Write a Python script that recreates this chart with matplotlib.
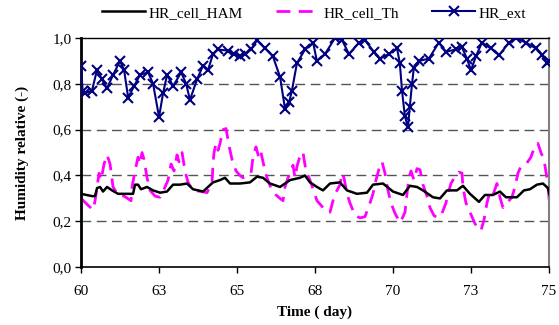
import matplotlib
matplotlib.use("Agg")
import matplotlib.pyplot as plt

# HR_ext
t_ext = [60.00, 60.05, 60.13, 60.35, 60.51, 60.67, 60.83, 61.03, 61.25, 61.38,
         61.51, 61.70, 61.89, 62.15, 62.31, 62.50, 62.63, 62.76, 62.95, 63.21,
         63.37, 63.49, 63.72, 63.91, 64.07, 64.23, 64.39, 64.71, 64.90, 65.10,
         65.26, 65.45, 65.64, 65.90, 66.15, 66.38, 66.54, 66.67, 66.76, 66.92,
         67.18, 67.44, 67.56, 67.82, 68.14, 68.37, 68.59, 68.91, 69.10, 69.39,
         69.58, 69.87, 70.13, 70.22, 70.29, 70.38, 70.48, 70.54, 70.61, 70.67,
         70.83, 71.15, 71.47, 71.70, 72.02, 72.21, 72.37, 72.50, 72.66, 72.85,
         73.14, 73.40, 73.72, 73.94, 74.26, 74.58, 74.78, 74.94, 75.00]
hr_ext = [0.88, 0.77, 0.76, 0.77, 0.86, 0.82, 0.78, 0.84, 0.90, 0.86,
          0.74, 0.79, 0.84, 0.85, 0.80, 0.655, 0.76, 0.84, 0.79, 0.85,
          0.80, 0.73, 0.82, 0.88, 0.86, 0.93, 0.95, 0.945, 0.93, 0.92,
          0.93, 0.95, 0.99, 0.955, 0.92, 0.83, 0.69, 0.72, 0.77, 0.89,
          0.95, 0.98, 0.90, 0.93, 1.00, 0.99, 0.93, 0.98, 0.99, 0.94,
          0.91, 0.93, 0.955, 0.89, 0.77, 0.66, 0.61, 0.70, 0.80, 0.87,
          0.90, 0.91, 0.98, 0.94, 0.95, 0.96, 0.91, 0.86, 0.92, 0.98,
          0.955, 0.925, 0.98, 1.00, 0.98, 0.955, 0.925, 0.89, 0.90]

# HR_cell_HAM
x_ham = [81, 92, 95, 97, 100, 103, 107, 112, 118, 123, 133, 135, 138, 141, 147,
         153, 160, 167, 173, 180, 187, 193, 203, 213, 220, 225, 230, 240, 250,
         257, 263, 270, 280, 290, 300, 305, 310, 317, 323, 330, 340, 347, 357,
         367, 373, 383, 393, 403, 410, 417, 423, 433, 440, 447, 457, 463, 470,
         479, 485, 493, 500, 506, 517, 524, 530, 537, 543, 548, 550]
hr_ham = [0.32, 0.31, 0.31, 0.345, 0.35, 0.33, 0.35, 0.335, 0.32, 0.32, 0.32, 0.36,
          0.36, 0.34, 0.35, 0.335, 0.325, 0.33, 0.36, 0.36, 0.365, 0.34, 0.33,
          0.37, 0.38, 0.39, 0.365, 0.365, 0.37, 0.395, 0.39, 0.365, 0.35, 0.38,
          0.39, 0.40, 0.37, 0.35, 0.335, 0.365, 0.37, 0.335, 0.32, 0.325, 0.36,
          0.365, 0.33, 0.315, 0.355, 0.35, 0.335, 0.305, 0.30, 0.335, 0.335,
          0.355, 0.32, 0.285, 0.315, 0.315, 0.33, 0.305, 0.305, 0.335, 0.34,
          0.36, 0.365, 0.345, 0.31]

# HR_cell_Th
x_th = [81, 88, 93, 95, 97, 99, 101, 104, 107, 110, 113, 118, 124, 131, 132,
        135, 138, 140, 142, 144, 147, 150, 155, 160, 163, 168, 171, 174, 177,
        179, 182, 185, 188, 193, 202, 207, 212, 213, 214, 216, 218, 220, 223,
        226, 229, 232, 236, 240, 243, 251, 253, 256, 259, 261, 264, 267, 271,
        276, 280, 283, 285, 288, 291, 293, 295, 297, 301, 303, 306, 310, 317,
        323, 327, 330, 333, 335, 337, 340, 342, 344, 347, 350, 355, 360, 365,
        370, 373, 376, 380, 382, 385, 388, 391, 395, 400, 403, 405, 407, 409,
        411, 414, 417, 420, 423, 427, 430, 434, 438, 442, 446, 448, 451, 455,
        459, 462, 463, 466, 470, 475, 478, 481, 484, 487, 490, 493, 497, 500,
        503, 507, 512, 515, 518, 521, 527, 531, 535, 538, 541, 544, 547, 549,
        550]
hr_th = [0.30, 0.27, 0.25, 0.29, 0.35, 0.41, 0.38, 0.45, 0.49, 0.45, 0.35, 0.315,
         0.31, 0.29, 0.35, 0.42, 0.48, 0.45, 0.50, 0.47, 0.39, 0.335, 0.31,
         0.305, 0.33, 0.38, 0.45, 0.42, 0.49, 0.46, 0.50, 0.42, 0.37, 0.335,
         0.33, 0.325, 0.37, 0.45, 0.50, 0.54, 0.51, 0.54, 0.60, 0.605, 0.53,
         0.47, 0.42, 0.40, 0.39, 0.41, 0.48, 0.525, 0.475, 0.50, 0.44, 0.39,
         0.345, 0.315, 0.30, 0.29, 0.35, 0.39, 0.42, 0.445, 0.39, 0.44, 0.50,
         0.50, 0.42, 0.38, 0.29, 0.26, 0.24, 0.24, 0.29, 0.32, 0.335, 0.36,
         0.41, 0.39, 0.32, 0.28, 0.225, 0.215, 0.22, 0.28, 0.32, 0.38, 0.445,
         0.46, 0.41, 0.335, 0.28, 0.235, 0.195, 0.22, 0.24, 0.32, 0.39, 0.42,
         0.38, 0.43, 0.425, 0.36, 0.31, 0.26, 0.225, 0.215, 0.235, 0.28, 0.32,
         0.365, 0.395, 0.415, 0.41, 0.35, 0.28, 0.24, 0.19, 0.17, 0.16, 0.205,
         0.28, 0.33, 0.315, 0.365, 0.305, 0.26, 0.28, 0.305, 0.35, 0.41, 0.44,
         0.455, 0.48, 0.53, 0.54, 0.50, 0.47, 0.39, 0.31, 0.19]

x_ticks = [60, 62.5, 65, 67.5, 70, 72.5, 75]
x_labels = ["60", "63", "65", "68", "70", "73", "75"]
y_ticks = [0.0, 0.2, 0.4, 0.6, 0.8, 1.0]
y_labels = ["0,0", "0,2", "0,4", "0,6", "0,8", "1,0"]


#_____________________________________________________________________________
def px_to_day(xs):

    # picture columns -> days (81 px = day 60, 31.2 px per day)
    return [60 + (x - 81) / 31.2 for x in xs]

#px_to_day

#_____________________________________________________________________________
def main():

    plt.rcParams["font.family"] = ["Liberation Serif", "DejaVu Serif"]

    fig = plt.figure(figsize=(5.59, 3.25), dpi=100)
    ax = fig.add_axes([0.145, 0.178, 0.837, 0.705])

    for yv in [0.2, 0.4, 0.6, 0.8]:
        ax.axhline(yv, color="#555555", lw=1, ls=(0, (7, 4)), zorder=1)

    ax.plot(px_to_day(x_ham), hr_ham, color="black", lw=1.8, label="HR_cell_HAM", zorder=3)
    ax.plot(px_to_day(x_th), hr_th, color="#ff00ff", lw=2, ls=(0, (5, 3)),
            label="HR_cell_Th", zorder=2)
    ax.plot(t_ext, hr_ext, color="#000080", lw=1.5, marker="x", ms=7, mew=1.5,
            label="HR_ext", zorder=4)

    ax.set_xlim(60, 75)
    ax.set_ylim(0, 1)
    ax.set_xticks(x_ticks)
    ax.set_xticklabels(x_labels)
    ax.set_yticks(y_ticks)
    ax.set_yticklabels(y_labels)
    ax.tick_params(labelsize=11, direction="out", length=4, width=1, colors="black", pad=3)
    ax.tick_params(axis="x", pad=9)

    ax.spines["left"].set_linewidth(2)
    ax.spines["bottom"].set_linewidth(1.2)
    ax.spines["top"].set_linewidth(1)
    ax.spines["right"].set_color("#808080")
    ax.spines["right"].set_linewidth(1.5)

    ax.set_xlabel("Time ( day)", fontsize=11, fontweight="bold", labelpad=5)
    ax.set_ylabel("Humidity relative (-)", fontsize=11, fontweight="bold", labelpad=17)

    fig.legend(loc="upper center", bbox_to_anchor=(0.562, 1.024), ncol=3, frameon=False,
               fontsize=11, handlelength=2.8, columnspacing=2.2, handletextpad=0.25)

    fig.savefig("out.png", dpi=100)
    plt.close()

#main

#_____________________________________________________________________________
if __name__ == "__main__":

    main()
